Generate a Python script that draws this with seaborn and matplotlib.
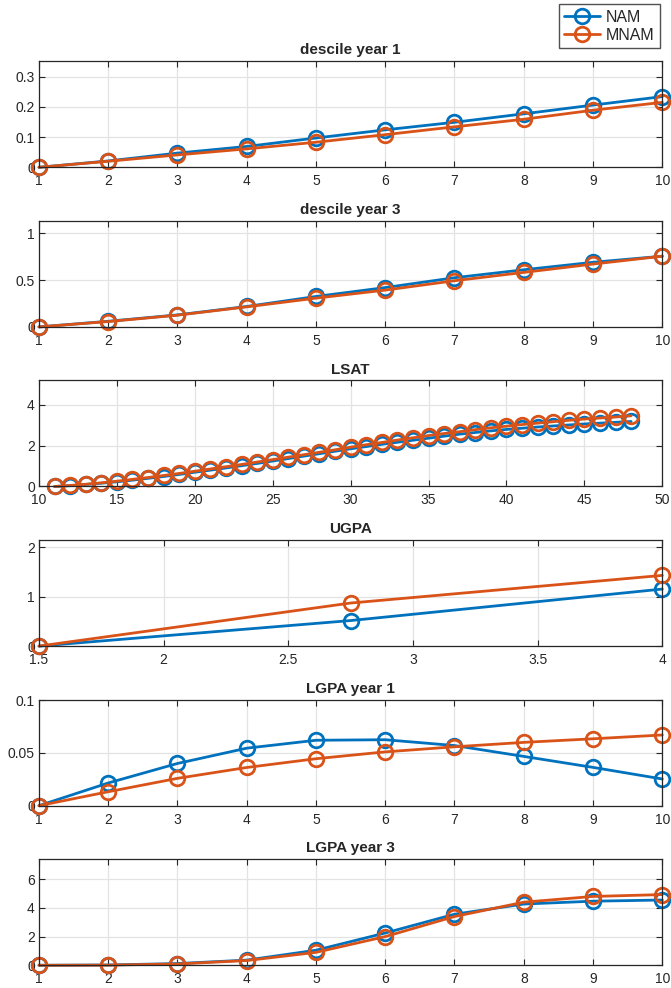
import numpy as np
import pandas as pd
import matplotlib
matplotlib.use("Agg")
import matplotlib.pyplot as plt
import seaborn as sns
from matplotlib.ticker import FuncFormatter

# Data
decile = [1, 2, 3, 4, 5, 6, 7, 8, 9, 10]

desc1_nam = [0, 0.021, 0.047, 0.069, 0.097, 0.124, 0.149, 0.177, 0.206, 0.234]
desc1_mnam = [0, 0.020, 0.041, 0.061, 0.083, 0.108, 0.134, 0.159, 0.189, 0.215]

desc3_nam = [0, 0.060, 0.128, 0.218, 0.325, 0.420, 0.525, 0.610, 0.690, 0.755]
desc3_mnam = [0, 0.057, 0.125, 0.214, 0.307, 0.393, 0.493, 0.582, 0.671, 0.755]

lsat_x = list(range(11, 49))
lsat_nam = [0.00, 0.04, 0.10, 0.16, 0.23, 0.31, 0.40, 0.49, 0.59, 0.70,
            0.80, 0.91, 1.02, 1.13, 1.25, 1.37, 1.49, 1.61, 1.73, 1.85,
            1.96, 2.07, 2.17, 2.27, 2.37, 2.47, 2.57, 2.65, 2.73, 2.80,
            2.86, 2.92, 2.97, 3.02, 3.07, 3.11, 3.15, 3.19]
lsat_mnam = [0.00, 0.05, 0.11, 0.18, 0.26, 0.35, 0.44, 0.54, 0.64, 0.75,
             0.86, 0.97, 1.08, 1.20, 1.32, 1.44, 1.56, 1.68, 1.80, 1.93,
             2.05, 2.16, 2.28, 2.39, 2.50, 2.60, 2.69, 2.79, 2.88, 2.96,
             3.04, 3.11, 3.18, 3.25, 3.31, 3.36, 3.41, 3.47]

ugpa_x = [1.5, 2.75, 4.0]
ugpa_nam = [0, 0.517, 1.155]
ugpa_mnam = [0, 0.872, 1.432]

lgpa1_nam = [0, 0.0215, 0.0400, 0.0545, 0.0620, 0.0625, 0.0570, 0.0467, 0.0363, 0.0253]
lgpa1_mnam = [0, 0.0132, 0.0259, 0.0362, 0.0445, 0.0510, 0.0558, 0.0600, 0.0634, 0.0670]

lgpa3_nam = [0, 0.02, 0.12, 0.36, 1.05, 2.25, 3.56, 4.27, 4.47, 4.55]
lgpa3_mnam = [0, 0.01, 0.09, 0.33, 0.90, 2.00, 3.40, 4.40, 4.80, 4.93]

panels = [
    ("descile year 1", decile, desc1_nam, desc1_mnam, [0, 0.1, 0.2, 0.3], (1, 10), list(range(1, 11))),
    ("descile year 3", decile, desc3_nam, desc3_mnam, [0, 0.5, 1], (1, 10), list(range(1, 11))),
    ("LSAT", lsat_x, lsat_nam, lsat_mnam, [0, 2, 4], (10, 50), list(range(10, 51, 5))),
    ("UGPA", ugpa_x, ugpa_nam, ugpa_mnam, [0, 1, 2], (1.5, 4), [1.5, 2, 2.5, 3, 3.5, 4]),
    ("LGPA year 1", decile, lgpa1_nam, lgpa1_mnam, [0, 0.05, 0.1], (1, 10), list(range(1, 11))),
    ("LGPA year 3", decile, lgpa3_nam, lgpa3_mnam, [0, 2, 4, 6], (1, 10), list(range(1, 11))),
]

blue = "#0072BD"
orange = "#D95319"

sns.set_style("whitegrid")
plt.rcParams["font.family"] = ["Liberation Sans", "DejaVu Sans"]

fig, axes = plt.subplots(6, 1, figsize=(6.71, 9.88), dpi=100)
fig.subplots_adjust(left=0.058, right=0.987, top=0.938, bottom=0.023, hspace=0.505)

fmt = FuncFormatter(lambda v, p: "%g" % v)

for ax, (title, x, y1, y2, yt, xl, xt) in zip(axes, panels):
    for y, c, lab in [(y1, blue, "NAM"), (y2, orange, "MNAM")]:
        sns.lineplot(x=x, y=y, ax=ax, color=c, linewidth=2, marker="o",
                     markersize=10.5, markerfacecolor="none", markeredgecolor=c,
                     markeredgewidth=2, label=lab, clip_on=False)
    ax.get_legend().remove()
    ax.set_xlim(*xl)
    ax.set_ylim(0, 1.5 * max(max(y1), max(y2)))
    ax.set_xticks(xt)
    ax.set_yticks(yt)
    ax.xaxis.set_major_formatter(fmt)
    ax.yaxis.set_major_formatter(fmt)
    ax.set_title(title, fontsize=11, fontweight="bold", pad=5)
    ax.grid(True, color="#e3e3e3", linewidth=0.9)
    ax.set_axisbelow(True)
    for s in ax.spines.values():
        s.set_visible(True)
        s.set_color("#262626")
        s.set_linewidth(0.9)
    ax.tick_params(direction="in", length=4, width=0.8, color="#262626",
                   labelsize=10, labelcolor="#262626", top=True, right=True,
                   bottom=True, left=True)
    ax.tick_params(axis="x", pad=5)
    ax.tick_params(axis="y", pad=3)

handles, labels = axes[0].get_legend_handles_labels()
fig.legend(handles, labels, loc="upper right", bbox_to_anchor=(0.984, 0.996),
           borderaxespad=0, fontsize=11.5, frameon=True, fancybox=False,
           edgecolor="#262626", handlelength=2.2, borderpad=0.35,
           labelspacing=0.2, handletextpad=0.4)

plt.savefig("out.png", dpi=100)
